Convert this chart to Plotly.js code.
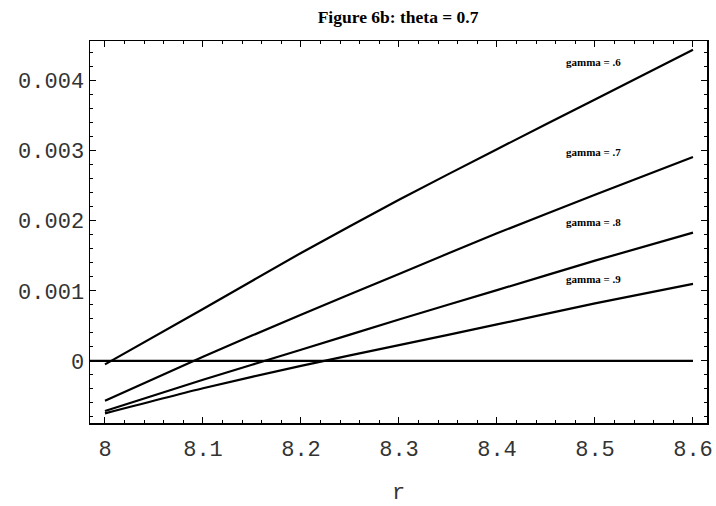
<!DOCTYPE html>
<html>
<head>
<meta charset="utf-8">
<script src="https://cdn.plot.ly/plotly-3.0.1.min.js"></script>
<style>html,body{margin:0;padding:0;background:#fff;}#chart{width:716px;height:506px;}</style>
</head>
<body>
<div id="chart"></div>
<script>
// r values (x axis)
const r = [8.0, 8.1, 8.2, 8.3, 8.4, 8.5, 8.6];
// series values
const gamma06 = [-0.00005, 0.00074, 0.00154, 0.00230, 0.00302, 0.00373, 0.00444];
const gamma07 = [-0.000567, 0.00006, 0.00066, 0.00124, 0.00182, 0.00237, 0.00291];
const gamma08 = [-0.000714, -0.00027, 0.00016, 0.00059, 0.00101, 0.00143, 0.00183];
const gamma09 = [-0.000748, -0.00039, -0.00007, 0.000225, 0.00052, 0.00082, 0.00110];
// zero reference line
const zeroX = [7.9847, 8.6];
const zeroY = [0, 0];
// curve labels
const labelText = ["gamma = .6", "gamma = .7", "gamma = .8", "gamma = .9"];
const labelX = [8.498, 8.498, 8.498, 8.498];
const labelY = [0.00427, 0.002986, 0.001986, 0.00117];
// ticks
const xTickVals = [8, 8.1, 8.2, 8.3, 8.4, 8.5, 8.6];
const xTickText = ["8", "8.1", "8.2", "8.3", "8.4", "8.5", "8.6"];
const yTickVals = [0, 0.001, 0.002, 0.003, 0.004];
const yTickText = ["0", "0.001", "0.002", "0.003", "0.004"];

const lineStyle = {color: "#000", width: 2.2};
const curveStyle = {color: "#000", width: 2.2, shape: "spline", smoothing: 0.6};
const series = [gamma06, gamma07, gamma08, gamma09];
const traces = series.map(s => ({x: r, y: s, type: "scatter", mode: "lines", line: curveStyle, hoverinfo: "skip"}));
traces.unshift({x: zeroX, y: zeroY, type: "scatter", mode: "lines", line: lineStyle, hoverinfo: "skip"});

const tickFont = {family: "Liberation Mono, Courier New, monospace", size: 22, color: "#333"};

const layout = {
  width: 716, height: 506,
  margin: {l: 90, r: 9, t: 41, b: 83},
  paper_bgcolor: "#fff", plot_bgcolor: "#fff",
  showlegend: false,
  title: {text: "<b>Figure 6b: theta = 0.7</b>", font: {family: "Liberation Serif, Times New Roman, serif", size: 17.5, color: "#000"}, x: 0.556, xanchor: "center", y: 0.978, yanchor: "top"},
  xaxis: {
    range: [7.9847, 8.6143], showgrid: false, zeroline: false,
    showline: true, linecolor: "#000", linewidth: 1.5, mirror: "allticks",
    ticks: "inside", ticklen: 6, tickcolor: "#000", tickwidth: 1,
    tickvals: xTickVals, ticktext: xTickText, tickfont: tickFont, ticklabelstandoff: 5,
    minor: {dtick: 0.02, tick0: 8, ticks: "inside", ticklen: 3, tickcolor: "#000", tickwidth: 1},
    title: {text: "r", font: tickFont, standoff: 24}
  },
  yaxis: {
    range: [-0.000886, 0.004564], showgrid: false, zeroline: false,
    showline: true, linecolor: "#000", linewidth: 1.5, mirror: "allticks",
    ticks: "inside", ticklen: 6, tickcolor: "#000", tickwidth: 1,
    tickvals: yTickVals, ticktext: yTickText, tickfont: tickFont,
    minor: {dtick: 0.0002, tick0: 0, ticks: "inside", ticklen: 3, tickcolor: "#000", tickwidth: 1}
  },
  annotations: labelText.map((t, i) => ({
    x: labelX[i], y: labelY[i], xref: "x", yref: "y", text: "<b>" + t + "</b>", showarrow: false,
    font: {family: "Liberation Serif, Times New Roman, serif", size: 11, color: "#000"}
  }))
};

Plotly.newPlot("chart", traces, layout, {displayModeBar: false, staticPlot: true});
</script>
</body>
</html>
